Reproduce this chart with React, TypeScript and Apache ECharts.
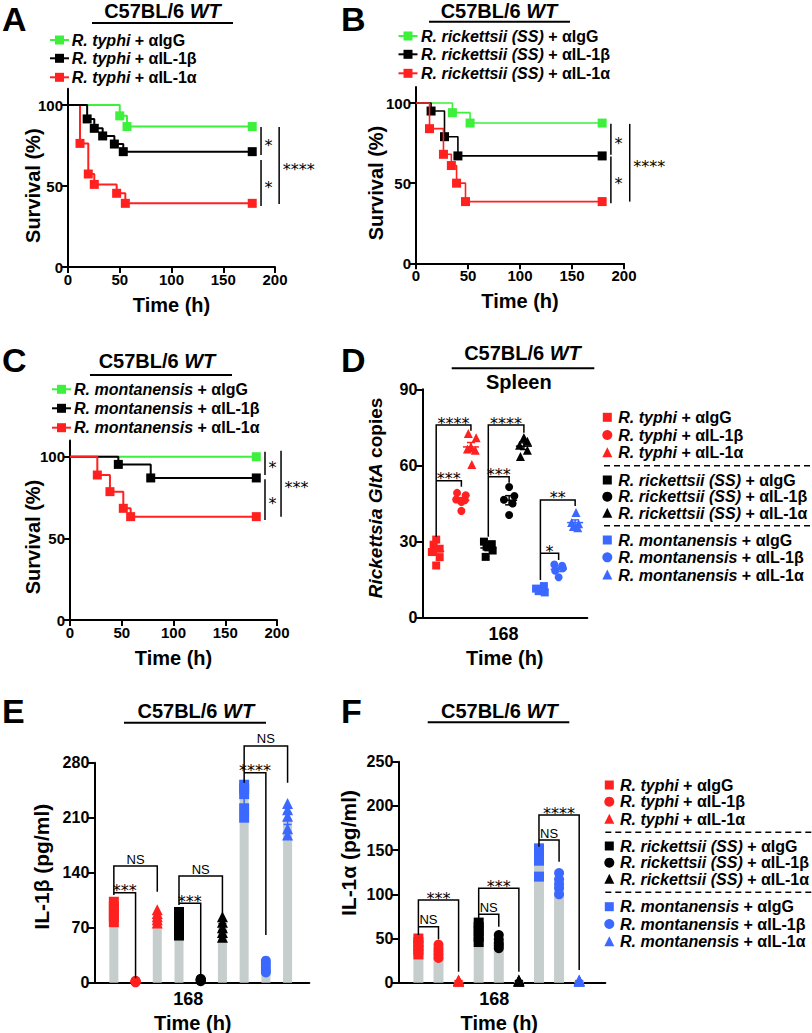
import React, { useEffect, useRef } from 'react';
import * as echarts from 'echarts';

const FONT = "'Liberation Sans', Arial, Helvetica, sans-serif";
const STAR_FONT = "'DejaVu Sans', sans-serif";
const GREEN = '#3cf03c';
const RED = '#ff2020';
const BLACK = '#000000';
const BLUE = '#3b68ff';
const BAR_GRAY = '#c6cdcd';

const STRAIN_NAMES = ['R. typhi', 'R. rickettsii (SS)', 'R. montanensis'];
const TREATMENTS = ['αIgG', 'αIL-1β', 'αIL-1α'];
const TITLE_STRAIN = 'C57BL/6';
const TITLE_GENO = 'WT';
const TIME_LABEL = '168';
const TIME_NAME = 'Time (h)';
const SURV_NAME = 'Survival (%)';
const D_Y_NAME = '{i|Rickettsia GltA} copies';
const E_Y_NAME = 'IL-1β (pg/ml)';
const F_Y_NAME = 'IL-1α (pg/ml)';
const SURV_Y_TICKS = [0, 50, 100];

// ---- Panel A: R. typhi survival ----
const survA_IgG = [[0, 100], [50, 93.3], [57, 86.7], [178, 86.7]];
const survA_IL1b = [[0, 100], [18.5, 91.4], [25.4, 85.6], [33.5, 80.9], [44.8, 75.9], [53.4, 71.2], [178, 71.2]];
const survA_IL1a = [[0, 100], [11.6, 76.3], [19.6, 57.4], [25.4, 51], [47, 45.5], [55.4, 39.3], [178, 39.3]];
const survA_brackets = [[186.5, 86.4, 69.1], [186.5, 66, 37.7], [204, 86.4, 38.9]];
const survA_sig = ['*', '*', '****'];

// ---- Panel B: R. rickettsii survival ----
const survB_IgG = [[0, 100], [35, 94], [52, 87.5], [179, 87.5]];
const survB_IL1b = [[0, 100], [14.5, 95], [27.4, 79], [40.3, 67], [179, 67]];
const survB_IL1a = [[0, 100], [13, 84], [26.4, 68], [34, 61], [39, 50], [47.6, 38.5], [179, 38.5]];
const survB_brackets = [[187.4, 87, 67.7], [187.4, 66.6, 37.5], [205.5, 87, 38.5]];
const survB_sig = ['*', '*', '****'];

// ---- Panel C: R. montanensis survival ----
const survC_IgG = [[0, 100], [180, 100]];
const survC_IL1b = [[0, 100], [46.7, 95.3], [78, 87], [180, 87]];
const survC_IL1a = [[0, 100], [26.4, 88.8], [38.6, 78.6], [51.5, 68.4], [58.6, 63.3], [180, 63.3]];
const survC_brackets = [[188.4, 103, 88.8], [188.4, 86.2, 61.2], [203.9, 103.7, 63.3]];
const survC_sig = ['*', '*', '***'];

// ---- Panel D: spleen GltA copies ----
const dTyphiIgG = [30.8, 28.8, 27.2, 25.9, 23.9, 20.6];
const dTyphiIL1b = [49.2, 48.3, 46.6, 46.3, 45.6, 42.1];
const dTyphiIL1a = [72.6, 70.9, 67.4, 66.5, 66, 60.4];
const dRrIgG = [30, 29, 28, 26.5, 24];
const dRrIL1b = [51.5, 48, 46.5, 45, 40.5];
const dRrIL1a = [71, 69.5, 68, 66, 63.5];
const dRmIgG = [12.5, 11.5, 11, 10.5, 10];
const dRmIL1b = [21, 20.5, 19.5, 18.5, 16];
const dRmIL1a = [41.5, 37.5, 37, 36, 35.5];
const dGroups = [dTyphiIgG, dTyphiIL1b, dTyphiIL1a, dRrIgG, dRrIL1b, dRrIL1a, dRmIgG, dRmIL1b, dRmIL1a];
const dX = [1, 2.45, 3, 4, 5.2, 6.05, 7, 8.05, 9];
const dJitter = [
  [0, -0.15, 0.2, -0.25, 0.2, 0],
  [-0.25, 0.25, -0.3, 0.2, 0, 0],
  [-0.15, 0.3, 0, -0.2, 0.25, 0.05],
  [-0.25, 0.2, -0.1, 0.25, -0.15],
  [0, 0.3, -0.3, 0.2, 0],
  [0, 0.2, -0.25, 0.2, -0.2],
  [0.2, -0.25, 0.1, -0.1, 0.25],
  [-0.25, 0.2, 0.25, -0.2, 0],
  [0.05, -0.2, 0.2, -0.1, 0.15],
];
const dBrackets = [[1, 3, 75.9, 31.9, 73.7], [1, 2.45, 54, 54, 51.6], [4, 6.05, 75.9, 31.9, 72.9], [4, 5.2, 55.6, 55.6, 53.2], [7, 9, 46.4, 14.9, 44], [7, 8.05, 25.4, 25.4, 22.8]];
const dSig = ['****', '***', '****', '***', '**', '*'];

// ---- Panel E: IL-1β ----
const eTyphiIgG = [103, 97, 90, 84, 77];
const eTyphiIL1b = [2.5, 2, 1.5, 1, 0.5];
const eTyphiIL1a = [93, 88, 84, 80, 76];
const eRrIgG = [90, 84, 76, 68, 60];
const eRrIL1b = [5, 4, 3.5, 3, 2];
const eRrIL1a = [84, 77, 70, 64, 58];
const eRmIgG = [252, 247, 240, 222, 210];
const eRmIL1b = [28, 24, 20, 16, 13];
const eRmIL1a = [228, 220, 212, 196, 188];
const eGroups = [eTyphiIgG, eTyphiIL1b, eTyphiIL1a, eRrIgG, eRrIL1b, eRrIL1a, eRmIgG, eRmIL1b, eRmIL1a];
const eBrackets = [[1, 3, 148.5, 111.6, 115.8], [1, 2, 114.5, 114.5, 5.6], [4, 6, 135.8, 98.9, 88.3], [4, 5, 101, 101, 9.8], [7, 9, 301.3, 254.5, 254.5], [7, 8, 267.3, 267.3, 60.7]];
const eSig = ['NS', '***', 'NS', '***', 'NS', '****'];

// ---- Panel F: IL-1α ----
const fTyphiIgG = [50, 46, 42, 37, 32];
const fTyphiIL1b = [43, 39, 36, 32, 28];
const fTyphiIL1a = [3, 2.5, 2, 2, 1.5];
const fRrIgG = [68, 63, 58, 52, 46];
const fRrIL1b = [54, 49, 45, 42, 39];
const fRrIL1a = [3, 2.5, 2, 2, 1.5];
const fRmIgG = [152, 149, 145, 138, 120];
const fRmIL1b = [124, 117, 112, 107, 100];
const fRmIL1a = [3, 2.5, 2, 2, 1.5];
const fGroups = [fTyphiIgG, fTyphiIL1b, fTyphiIL1a, fRrIgG, fRrIL1b, fRrIL1a, fRmIgG, fRmIL1b, fRmIL1a];
const fBrackets = [[1, 3, 93.5, 54, 12.4], [1, 2, 63.3, 63.3, 49], [4, 6, 106.8, 72.8, 12.4], [4, 5, 77.3, 77.3, 63.3], [7, 9, 189.6, 153.8, 14.4], [7, 8, 161.4, 161.4, 136.9]];
const fSig = ['***', 'NS', '***', 'NS', '****', 'NS'];

const barX = [1, 2, 3, 4, 5, 6, 7, 8, 9];
const GROUP_COLORS = [RED, RED, RED, BLACK, BLACK, BLACK, BLUE, BLUE, BLUE];
const GROUP_SYMBOLS = ['rect', 'circle', 'triangle', 'rect', 'circle', 'triangle', 'rect', 'circle', 'triangle'];

const mean = (a: number[]) => a.reduce((s, v) => s + v, 0) / a.length;
const sem = (a: number[]) => {
  const m = mean(a);
  const sd = Math.sqrt(a.reduce((s, v) => s + (v - m) * (v - m), 0) / (a.length - 1));
  return sd / Math.sqrt(a.length);
};

const AXIS_LINE = { color: '#000', width: 2 };
const lbl = (size: number, extra: any = {}) => ({ color: '#000', fontWeight: 'bold', fontSize: size, fontFamily: FONT, ...extra });

function survXAxis(i: number) {
  return {
    gridIndex: i, type: 'value', min: 0, max: 200, interval: 50,
    axisLine: { show: true, onZero: false, lineStyle: AXIS_LINE },
    axisTick: { show: true, length: 6, lineStyle: AXIS_LINE },
    axisLabel: lbl(15, { margin: 5 }),
    splitLine: { show: false },
    name: TIME_NAME, nameLocation: 'middle', nameGap: 28, nameMoveOverlap: false, nameTextStyle: lbl(20),
  };
}
function survYAxis(i: number) {
  return {
    gridIndex: i, type: 'value', min: 0, max: 110,
    axisLine: { show: true, onZero: false, lineStyle: AXIS_LINE },
    axisTick: { show: true, length: 6, lineStyle: AXIS_LINE, customValues: SURV_Y_TICKS },
    axisLabel: lbl(15, { margin: 5, customValues: SURV_Y_TICKS }),
    splitLine: { show: false },
  };
}

function survLine(i: number, data: number[][], color: string, z: number, lw: number) {
  return {
    type: 'line', xAxisIndex: i, yAxisIndex: i, step: 'end', z, silent: true,
    data: data.map((p, k) => (k === 0 ? { value: p, symbol: 'none' } : { value: p })),
    symbol: 'rect', symbolSize: 9, showSymbol: true, showAllSymbol: true,
    lineStyle: { color, width: lw }, itemStyle: { color },
  };
}

function survBracketSeries(i: number, data: number[][], labels: string[]) {
  return {
    type: 'custom', xAxisIndex: i, yAxisIndex: i, clip: false, silent: true, z: 6,
    data,
    renderItem: (params: any, api: any) => {
      const x = api.value(0);
      const p1 = api.coord([x, api.value(1)]);
      const p2 = api.coord([x, api.value(2)]);
      return {
        type: 'group',
        children: [
          { type: 'line', shape: { x1: p1[0], y1: p1[1], x2: p2[0], y2: p2[1] }, style: { stroke: '#000', lineWidth: 1.5 } },
          {
            type: 'text', x: p1[0] + 3.5, y: (p1[1] + p2[1]) / 2 + 4,
            style: { text: labels[params.dataIndex], fill: '#000', fontSize: 16, fontFamily: STAR_FONT, align: 'left', verticalAlign: 'middle' },
          },
        ],
      };
    },
  };
}

function sigBracketSeries(i: number, data: number[][], labels: string[]) {
  return {
    type: 'custom', xAxisIndex: i, yAxisIndex: i, clip: false, silent: true, z: 6,
    data,
    renderItem: (params: any, api: any) => {
      const xL = api.value(0), xR = api.value(1), yT = api.value(2), yLB = api.value(3), yRB = api.value(4);
      const a = api.coord([xL, yLB]), b = api.coord([xL, yT]), c = api.coord([xR, yT]), d = api.coord([xR, yRB]);
      const label = labels[params.dataIndex];
      const ns = label === 'NS';
      return {
        type: 'group',
        children: [
          { type: 'polyline', shape: { points: [a, b, c, d] }, style: { stroke: '#000', lineWidth: 1.5, fill: null } },
          {
            type: 'text', x: (b[0] + c[0]) / 2, y: b[1] - (ns ? 7 : 2),
            style: {
              text: label, fill: '#000', fontSize: ns ? 13 : 16, fontFamily: ns ? FONT : STAR_FONT,
              align: 'center', verticalAlign: 'middle',
            },
          },
        ],
      };
    },
  };
}

function errSeries(i: number, groups: number[][], xs: number[], capHalf: number, meanHalf: number, lw: number) {
  return {
    type: 'custom', xAxisIndex: i, yAxisIndex: i, clip: false, silent: true, z: 5,
    data: groups.map((g, k) => [xs[k], mean(g), sem(g)]),
    renderItem: (params: any, api: any) => {
      const x = api.value(0), m = api.value(1), s = api.value(2);
      const pm = api.coord([x, m]), pt = api.coord([x, m + s]), pb = api.coord([x, m - s]);
      const st = { stroke: GROUP_COLORS[params.dataIndex], lineWidth: lw };
      const children: any[] = [
        { type: 'line', shape: { x1: pt[0], y1: pt[1], x2: pb[0], y2: pb[1] }, style: st },
        { type: 'line', shape: { x1: pt[0] - capHalf, y1: pt[1], x2: pt[0] + capHalf, y2: pt[1] }, style: st },
        { type: 'line', shape: { x1: pb[0] - capHalf, y1: pb[1], x2: pb[0] + capHalf, y2: pb[1] }, style: st },
      ];
      if (meanHalf > 0) children.push({ type: 'line', shape: { x1: pm[0] - meanHalf, y1: pm[1], x2: pm[0] + meanHalf, y2: pm[1] }, style: st });
      return { type: 'group', children };
    },
  };
}

function scatterSeries(i: number, groups: number[][], xs: number[], jitter: number[][] | null, size: number) {
  return groups.map((g, k) => ({
    type: 'scatter', xAxisIndex: i, yAxisIndex: i, z: 4, silent: true,
    symbol: GROUP_SYMBOLS[k], symbolSize: GROUP_SYMBOLS[k] === 'triangle' ? size + 1 : size,
    itemStyle: { color: GROUP_COLORS[k], opacity: 1 },
    data: g.map((v, j) => [xs[k] + (jitter ? jitter[k][j] : 0), v]),
  }));
}

function barSeries(i: number, groups: number[][], width: number) {
  return {
    type: 'bar', xAxisIndex: i, yAxisIndex: i, z: 1, silent: true, barWidth: width,
    itemStyle: { color: BAR_GRAY },
    data: groups.map((g, k) => [barX[k], mean(g)]),
  };
}

// ---- graphic helpers ----
const T = (x: number, y: number, text: string, size: number, opts: any = {}) => ({
  type: 'text', x, y, silent: true, rotation: opts.rotation || 0,
  style: {
    text, fill: '#000', fontSize: size, fontWeight: 'bold', fontFamily: FONT,
    align: opts.align || 'left', verticalAlign: 'middle',
    textAlign: opts.align || 'left', textVerticalAlign: 'middle',
    rich: opts.rich,
  },
});
const L = (x1: number, y1: number, x2: number, y2: number, w = 2, dash: any = null, color = '#000') => ({
  type: 'line', silent: true, shape: { x1, y1, x2, y2 }, style: { stroke: color, lineWidth: w, lineDash: dash },
});
const richIt = (size: number) => ({ i: { fontStyle: 'italic', fontWeight: 'bold', fontFamily: FONT, fill: '#000', fontSize: size } });
const yName = (cx: number, cy: number, text: string, size: number, rich: any = undefined) =>
  T(cx, cy, text, size, { align: 'center', rotation: Math.PI / 2, rich });

function panelTitle(cx: number, cy: number, uy: number, ux1: number, ux2: number) {
  return [T(cx, cy, `${TITLE_STRAIN} {i|${TITLE_GENO}}`, 20, { align: 'center', rich: richIt(20) }), L(ux1, uy, ux2, uy, 2)];
}
function legendLabel(s: number, t: number) {
  return `{i|${STRAIN_NAMES[s]}} + ${TREATMENTS[t]}`;
}
function survLegend(x0: number, textX: number, ys: number[], strain: number) {
  const cols = [GREEN, BLACK, RED];
  const out: any[] = [];
  ys.forEach((y, t) => {
    out.push(L(x0, y, x0 + 19, y, 2, null, cols[t]));
    out.push({ type: 'rect', silent: true, shape: { x: x0 + 9.5 - 4.5, y: y - 4.5, width: 9, height: 9 }, style: { fill: cols[t] } });
    out.push(T(textX, y, legendLabel(strain, t), 16, { rich: richIt(16) }));
  });
  return out;
}
function markerShape(sym: string, cx: number, cy: number, color: string, size: number) {
  if (sym === 'rect') return { type: 'rect', silent: true, shape: { x: cx - size / 2, y: cy - size / 2, width: size, height: size }, style: { fill: color } };
  if (sym === 'circle') return { type: 'circle', silent: true, shape: { cx, cy, r: size / 2 + 0.5 }, style: { fill: color } };
  return { type: 'polygon', silent: true, shape: { points: [[cx, cy - size / 2 - 1], [cx + size / 2 + 0.5, cy + size / 2], [cx - size / 2 - 0.5, cy + size / 2]] }, style: { fill: color } };
}
function groupLegend(mx: number, tx: number, ys: number[], dashYs: number[], dashX0: number) {
  const out: any[] = [];
  ys.forEach((y, k) => {
    out.push(markerShape(GROUP_SYMBOLS[k], mx, y, GROUP_COLORS[k], 9));
    out.push(T(tx, y, legendLabel(Math.floor(k / 3), k % 3), 16, { rich: richIt(16) }));
  });
  dashYs.forEach((y) => out.push(L(dashX0, y, 812, y, 1.5, [6, 4])));
  return out;
}

function buildOption() {
  const grids = [
    { left: 68, top: 88.8, width: 207, height: 178.2 },
    { left: 416, top: 87, width: 208, height: 176.3 },
    { left: 70, top: 440.4, width: 207, height: 179.6 },
    { left: 422.3, top: 389.3, width: 165, height: 228.5 },
    { left: 94.3, top: 762.7, width: 215, height: 220 },
    { left: 398.3, top: 761.7, width: 207, height: 221 },
  ].map((g) => ({ ...g, containLabel: false, outerBoundsMode: 'none', show: false }));

  const catX = (i: number, min: number, max: number, labelPos: number, namePad: number[]) => ({
    gridIndex: i, type: 'value', min, max,
    axisLine: { show: true, onZero: false, lineStyle: AXIS_LINE },
    axisTick: { show: false },
    axisLabel: lbl(18, { margin: 7, customValues: [labelPos], formatter: () => TIME_LABEL }),
    splitLine: { show: false },
    name: TIME_NAME, nameLocation: 'middle', nameGap: 30, nameMoveOverlap: false, nameTextStyle: lbl(20, { padding: namePad }),
  });
  const valY = (i: number, max: number, interval: number) => ({
    gridIndex: i, type: 'value', min: 0, max, interval,
    axisLine: { show: true, onZero: false, lineStyle: AXIS_LINE },
    axisTick: { show: true, length: 7, lineStyle: AXIS_LINE },
    axisLabel: lbl(16, { margin: 5 }),
    splitLine: { show: false },
  });

  const xAxis = [
    survXAxis(0), survXAxis(1), survXAxis(2),
    catX(3, 0.2, 9.7, 4.87, [0, 0, 0, 0]),
    catX(4, 0.1, 10, 4.43, [0, 18, 0, 0]),
    catX(5, 0, 10.3, 4.78, [0, 5, 0, 0]),
  ];
  const yAxis = [survYAxis(0), survYAxis(1), survYAxis(2), valY(3, 90, 30), valY(4, 280, 70), valY(5, 250, 50)];

  const series: any[] = [
    survLine(0, survA_IgG, GREEN, 2, 2), survLine(0, survA_IL1a, RED, 3, 2), survLine(0, survA_IL1b, BLACK, 4, 2),
    survBracketSeries(0, survA_brackets, survA_sig),
    survLine(1, survB_IgG, GREEN, 2, 1.6), survLine(1, survB_IL1b, BLACK, 3, 1.6), survLine(1, survB_IL1a, RED, 4, 1.6),
    survBracketSeries(1, survB_brackets, survB_sig),
    survLine(2, survC_IgG, GREEN, 2, 2), survLine(2, survC_IL1b, BLACK, 3, 2), survLine(2, survC_IL1a, RED, 4, 2),
    survBracketSeries(2, survC_brackets, survC_sig),
    ...scatterSeries(3, dGroups, dX, dJitter, 8),
    errSeries(3, dGroups, dX, 4, 8, 1.5),
    sigBracketSeries(3, dBrackets, dSig),
    barSeries(4, eGroups, 9),
    ...scatterSeries(4, eGroups, barX, null, 10),
    errSeries(4, eGroups, barX, 4, 0, 1.5),
    sigBracketSeries(4, eBrackets, eSig),
    barSeries(5, fGroups, 10),
    ...scatterSeries(5, fGroups, barX, null, 10),
    errSeries(5, fGroups, barX, 4, 0, 1.5),
    sigBracketSeries(5, fBrackets, fSig),
  ];

  const graphic: any[] = [
    T(2, 19, 'A', 34), T(341, 19, 'B', 34), T(2, 360, 'C', 34),
    T(341, 360, 'D', 34), T(2, 711, 'E', 34), T(341, 711, 'F', 34),
    ...panelTitle(162.5, 10.5, 23, 92, 233),
    ...panelTitle(499, 10.5, 21.7, 429, 570),
    ...panelTitle(157, 360.8, 375, 90, 232),
    ...panelTitle(522.5, 353.3, 368.3, 451.7, 594.3),
    ...panelTitle(195.8, 710.6, 722.7, 124, 266),
    ...panelTitle(499.3, 710.6, 722.3, 427.7, 569.3),
    T(518.8, 382, 'Spleen', 20, { align: 'center' }),
    yName(33.3, 185.7, SURV_NAME, 20),
    yName(375.5, 183, SURV_NAME, 20),
    yName(32.5, 537, SURV_NAME, 20),
    yName(375.5, 498, D_Y_NAME, 19, richIt(19)),
    yName(41.7, 866.7, E_Y_NAME, 21),
    yName(348.3, 853, F_Y_NAME, 21),
    ...survLegend(50, 71.7, [40, 58.3, 77.3], 0),
    ...survLegend(398.5, 421, [36, 54.3, 73.3], 1),
    ...survLegend(52, 74, [389.3, 408.3, 427.7], 2),
    ...groupLegend(607.3, 618.3, [417.3, 435, 452.7, 480, 496.7, 513.3, 540, 557.3, 575], [465.7, 525.7], 604),
    ...groupLegend(609.3, 620, [785, 801.7, 819.3, 846, 862.7, 879.3, 906.7, 924, 941.7], [832.3, 892.3], 605.3),
  ];

  return {
    animation: false,
    backgroundColor: '#ffffff',
    textStyle: { fontFamily: FONT },
    grid: grids,
    xAxis,
    yAxis,
    series,
    graphic: { elements: graphic },
  };
}

export default function App() {
  const ref = useRef<HTMLDivElement>(null);
  useEffect(() => {
    document.body.style.margin = '0';
    document.body.style.overflow = 'hidden';
    const chart = echarts.init(ref.current as HTMLDivElement, null, { renderer: 'svg', width: 812, height: 1033 });
    chart.setOption(buildOption() as any);
    return () => chart.dispose();
  }, []);
  return <div ref={ref} style={{ width: 812, height: 1033, background: '#fff' }} />;
}
